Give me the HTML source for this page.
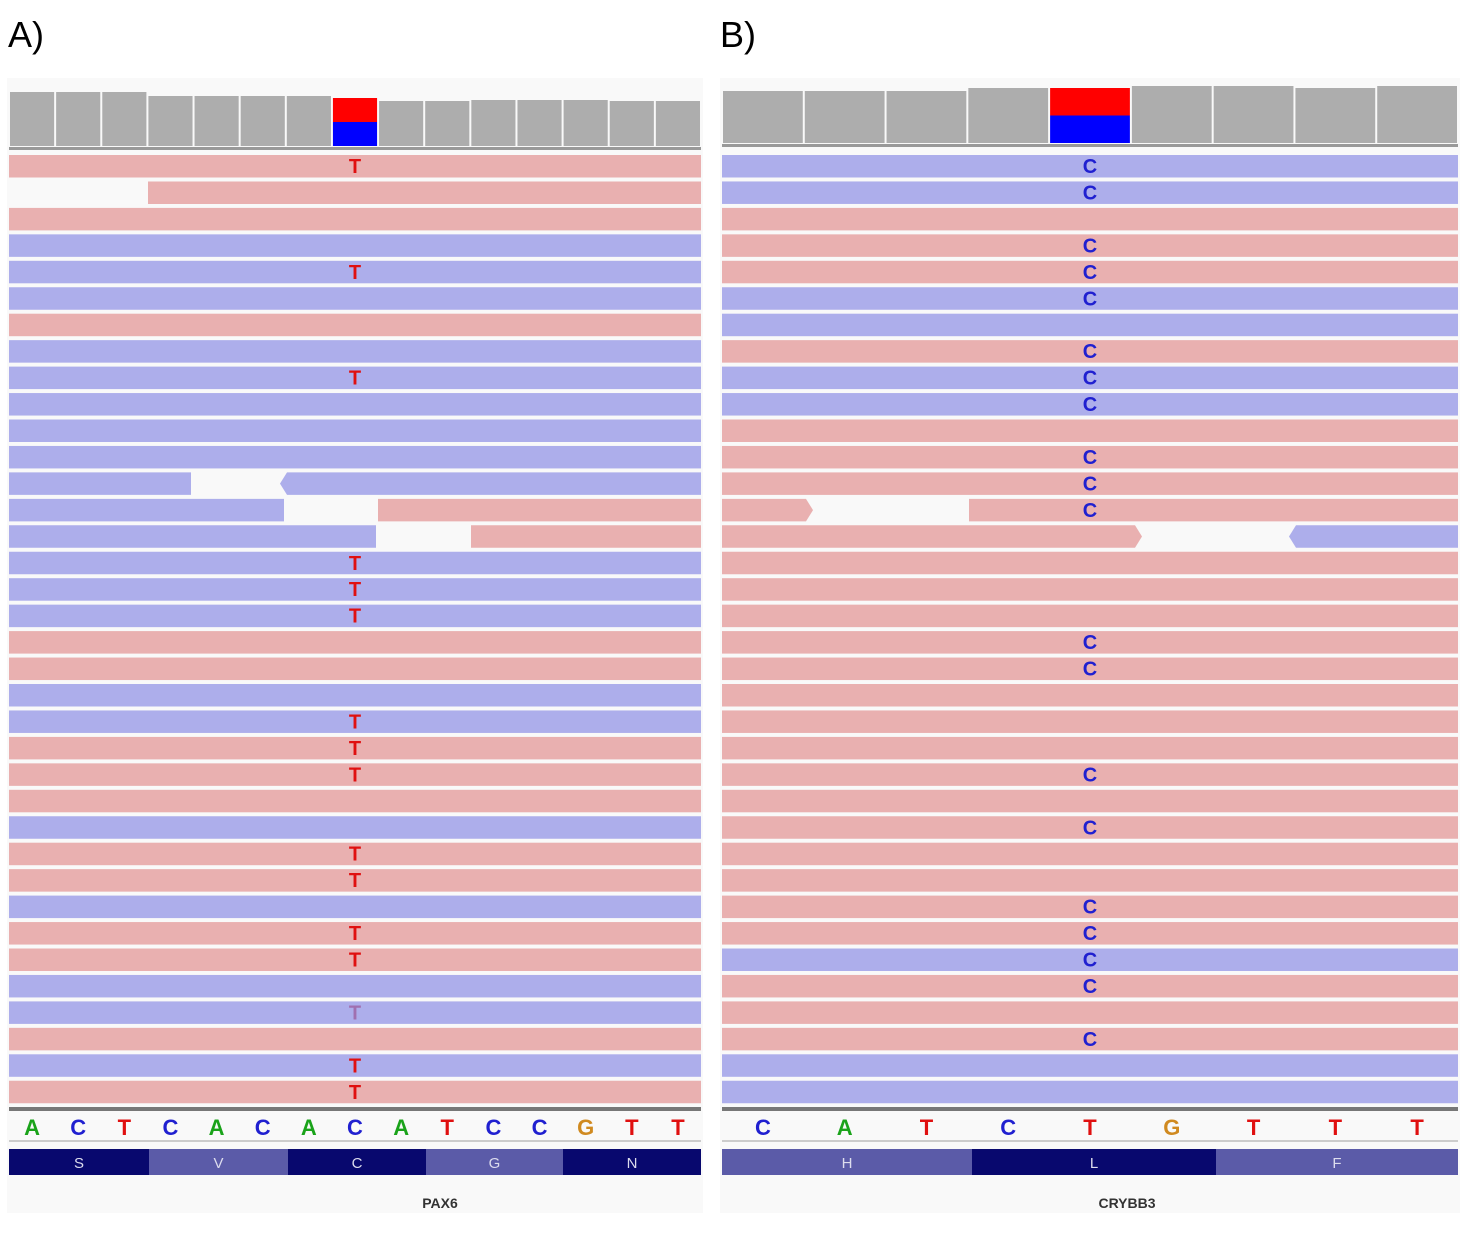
<!DOCTYPE html>
<html><head><meta charset="utf-8"><style>
html,body{margin:0;padding:0;background:#fff;width:1475px;height:1235px;overflow:hidden}
svg text{font-family:"Liberation Sans",sans-serif}
</style></head><body>
<svg id="c" width="1475" height="1235" viewBox="0 0 1475 1235" xmlns="http://www.w3.org/2000/svg"></svg>
<script>
// Panel A data
const aCovTops=[92,92,92,96,96,96,96,98,101,101,100,100,100,101,101];
const aRows=["r","r","r","b","b","b","r","b","b","b","b","b","b","b","b","b","b","b","r","r","b","b","r","r","r","b","r","r","b","r","r","b","b","r","b","r"];
const aMut=[0,4,8,15,16,17,21,22,23,26,27,29,30,32,34,35];
const aFaint=[32];
const aSeq=["A","C","T","C","A","C","A","C","A","T","C","C","G","T","T"];
const aAA=["S","V","C","G","N"];
// Panel B data
const bCovTops=[91,91,91,88,88,86,86,88,86];
const bRows=["b","b","r","r","r","b","b","r","b","b","r","r","r","r","r","r","r","r","r","r","r","r","r","r","r","r","r","r","r","r","b","r","r","r","b","b"];
const bMut=[0,1,3,4,5,7,8,9,11,12,13,18,19,23,25,28,29,30,31,33];
const bSeq=["C","A","T","C","T","G","T","T","T"];
const bAA=["H","L","F"];

const svg=document.getElementById('c');
const NS="http://www.w3.org/2000/svg";
function mk(tag,attrs,name,parent){const e=document.createElementNS(NS,tag);for(const k in attrs)e.setAttribute(k,attrs[k]);


(parent||svg).appendChild(e);return e;}
const PINK="#e9b0b0",BLUE="#adaeeb";
const rowY=i=>155+i*26.45;
const RH=22.5;
const segColor={A:"#1aa31a",C:"#2020d0",T:"#e01010",G:"#d08a20"};

function panel(x0,x1,covTops,covBottom,mutCol,rows,mut,mutLetter,mutColor,seq,aa,aaBounds,gene,geneX,gaps,faint,label,labelX){
  const g=mk('g',{},label==="A)"?'panel-a':'panel-b');
  const t=mk('text',{x:labelX,y:47,'font-size':36,fill:'#000'},'panel-label',g);t.textContent=label;
  mk('rect',{x:x0-2,y:78,width:x1-x0+4,height:1135,fill:'#f9f9f9'},'panel-background',g);
  const n=covTops.length,cw=(x1-x0)/n;
  covTops.forEach((top,i)=>{
    const x=x0+i*cw+1;
    if(i===mutCol){
      const mid=(top+covBottom)/2;
      mk('rect',{x:x,y:top,width:cw-2,height:mid-top,fill:'#ff0000'},'coverage-ref-allele',g);
      mk('rect',{x:x,y:mid,width:cw-2,height:covBottom-mid,fill:'#0000ff'},'coverage-alt-allele',g);
    } else mk('rect',{x:x,y:top,width:cw-2,height:covBottom-top,fill:'#adadad'},'coverage-bar',g);
  });
  mk('rect',{x:x0,y:covBottom+1,width:x1-x0,height:3,fill:'#999'},'coverage-baseline',g);
  rows.forEach((c,i)=>{
    const y=rowY(i);
    if(gaps[i]){
      gaps[i].forEach(s=>{
        const col=s.c==="r"?PINK:BLUE; const a=s.a||"";
        let p;
        if(a==="R") p=`${s.x0},${y} ${s.x1-7},${y} ${s.x1},${y+RH/2} ${s.x1-7},${y+RH} ${s.x0},${y+RH}`;
        else if(a==="L") p=`${s.x0+7},${y} ${s.x1},${y} ${s.x1},${y+RH} ${s.x0+7},${y+RH} ${s.x0},${y+RH/2}`;
        else p=`${s.x0},${y} ${s.x1},${y} ${s.x1},${y+RH} ${s.x0},${y+RH}`;
        mk('polygon',{points:p,fill:col},'read',g);
      });
    } else mk('rect',{x:x0,y:y,width:x1-x0,height:RH,fill:c==="r"?PINK:BLUE},'read',g);
  });
  const mx=x0+(mutCol+0.5)*cw;
  mut.forEach(i=>{
    const tt=mk('text',{x:mx,y:rowY(i)+18,'font-size':20,'font-weight':'bold','text-anchor':'middle',fill:faint.includes(i)?'#a070b0':mutColor},'mismatch-base',g);
    tt.textContent=mutLetter;
  });
  mk('rect',{x:x0,y:1107,width:x1-x0,height:4,fill:'#777'},'sequence-divider',g);
  const sw=(x1-x0)/seq.length;
  seq.forEach((s,i)=>{const tt=mk('text',{x:x0+(i+0.5)*sw,y:1135,'font-size':22,'font-weight':'bold','text-anchor':'middle',fill:segColor[s]},'reference-base',g);tt.textContent=s;});
  mk('rect',{x:x0,y:1140,width:x1-x0,height:2,fill:'#ccc'},'sequence-underline',g);
  aa.forEach((a,i)=>{
    const b0=aaBounds[i],b1=aaBounds[i+1];
    mk('rect',{x:b0,y:1149,width:b1-b0,height:26,fill:(i%2===0)===(aa.length===5)?'#08086e':'#5b5ba8'},'amino-acid-box',g);
    const tt=mk('text',{x:(b0+b1)/2,y:1168,'font-size':15,'text-anchor':'middle',fill:'#dde'},'amino-acid-label',g);tt.textContent=a;
  });
  const gt=mk('text',{x:geneX,y:1208,'font-size':14,'font-weight':'bold','text-anchor':'middle',fill:'#333'},'gene-name',g);gt.textContent=gene;
}
panel(9,701,aCovTops,146,7,aRows,aMut,"T","#e01010",aSeq,aAA,[9,149,288,426,563,701],"PAX6",440,
 {1:[{x0:148,x1:701,c:"r"}],12:[{x0:9,x1:191,c:"b"},{x0:280,x1:701,c:"b",a:"L"}],13:[{x0:9,x1:284,c:"b"},{x0:378,x1:701,c:"r"}],14:[{x0:9,x1:376,c:"b"},{x0:471,x1:701,c:"r"}]},aFaint,"A)",8);
panel(722,1458,bCovTops,143,4,bRows,bMut,"C","#2020d0",bSeq,bAA,[722,972,1216,1458],"CRYBB3",1127,
 {13:[{x0:722,x1:813,c:"r",a:"R"},{x0:969,x1:1458,c:"r"}],14:[{x0:722,x1:1142,c:"r",a:"R"},{x0:1289,x1:1458,c:"b",a:"L"}]},[],"B)",720);
</script>
</body></html>
